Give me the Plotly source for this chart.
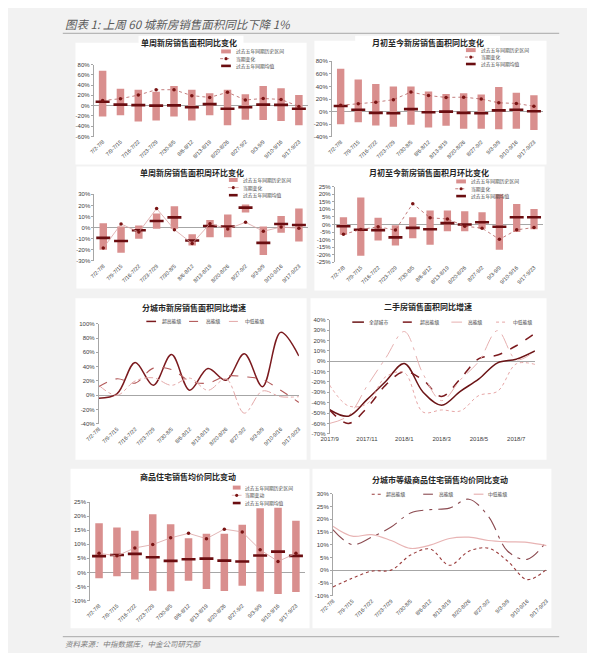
import plotly.graph_objects as go

W, H = 595, 653

# ---------------- data ----------------
weeks = ["7/2-7/8", "7/9-7/15", "7/16-7/22", "7/23-7/29", "7/30-8/5", "8/6-8/12",
         "8/13-8/19", "8/20-8/26", "8/27-9/2", "9/3-9/9", "9/10-9/16", "9/17-9/23"]

# chart 1: 单周新房销售面积同比变化
c1_high = [68, 33, 31, 27, 38, 31, 24, 31, 22, 38, 34, 20.5]
c1_low = [-21, -18.5, -31, -29, -21, -29, -18.5, -38, -27.5, -28, -30, -38]
c1_mean = [7.7, 2, 1, 0, 0.5, -3, 3, -6, -3, 2, 1.5, -6]
c1_cur = [10, 13.5, 20.5, 31, 31, 19.5, 16, 26, 11, 14, 12, -1.5]

# chart 2: 月初至今新房销售面积同比变化
c2_high = [68, 51, 44, 40, 40, 32, 28, 29, 27, 39, 30, 26]
c2_low = [-20, -17, -22, -24, -21, -25, -22.5, -27, -27, -28, -27, -29]
c2_mean = [9, 3, -2, -2.5, 4, -1, 0, -2, -2.5, 2, 3, 0.5]
c2_cur = [10, 12.5, 15, 19, 31, 25.5, 22.5, 23, 20, 14, 13, 8.5]

# chart 3: 单周新房销售面积周环比变化
c3_high = [4, 1, 2, 12.8, 19.3, -6, 6.8, 11.9, 20.8, 1, 10.4, 17.2]
c3_low = [-20, -22.5, -10, -1, -1, -16, -8.6, -8.6, 13.7, -24.6, -4.5, -12.5]
c3_mean = [-9.2, -12, -2.4, 6, 9.2, -11.6, 1.5, 1, 18, -13.7, 3.3, 2.4]
c3_cur = [-18.4, 3.3, -4, 17.2, -1.8, -14.3, 3.6, -1.2, 4.8, -3.3, 0.6, -0.6]

# chart 4: 月初至今新房销售面积月环比变化
c4_high = [4.8, 17.9, 4.4, -0.5, 4.8, 9.2, 9.2, 8.7, 8.1, 20, 13.5, 10.3]
c4_low = [-6.8, -20.7, -10.5, -13.8, -9, -13.3, -4.4, -4.4, -2.8, -16.6, -5, -3.1]
c4_mean = [-1.1, -3.5, -3.7, -8.5, -2.2, -3.1, 0.9, 0, 1.5, -1.5, 4.8, 4.8]
c4_cur = [-6.5, -3.3, -1.5, -3.7, 13.8, 4.4, 3.7, -1.1, -2.4, -9.8, -3.5, -2]

# chart 5: 分城市新房销售面积同比增速
c5_super = [-4, 2, 46, 14, 57, 7, 37.5, 21, 58, 12, 88, 55]
c5_high = [12, 23, 17, 38, 36, 20, 17, 27, 26, 22, 7, -10]
c5_mid = [14, 0, 20, 24.5, 14, 24, 7, 23, -25, 6, -2, -2]

# chart 6: 二手房销售面积同比增速 (monthly, 0 = 2017/9)
c6_month = [0, 1, 2, 3, 4, 5, 6, 7, 8, 9, 10, 11]
c6_tickpos = [0, 2, 4, 6, 8, 10]
c6_ticktext = ["2017/9", "2017/11", "2018/1", "2018/3", "2018/5", "2018/7"]
c6_all = [-46.8, -53, -37, -19.5, -2.2, -29.6, -42.4, -29, -17, -1.5, 2, 10]
c6_super = [-47, -60, -45, -23, -10, -18, -34, -17, 2.5, 6, 15, 27]
c6_high = [-60, -52.5, -24, 3, 28.7, -12, -38, -18, 0, 29.6, 1.5, 10]
c6_mid = [-23, -43, -41, -15, -11, -49, -47, -48, -33, -29, -2.5, -3]

# chart 7: 商品住宅销售均价同比变动
c7_high = [17.5, 16, 14.8, 20.7, 17.1, 12.2, 13.8, 13.8, 17, 22.8, 23, 18.4]
c7_low = [-2.1, -1.4, -2.5, -6.5, -6.7, -3, -5.9, -6.6, -4.7, -6.8, -7.7, -7]
c7_mean = [5.8, 6.2, 6.6, 5.4, 4.1, 4.7, 4.9, 4.2, 3.9, 6, 7.4, 5.9]
c7_cur = [6.8, 5.9, 8.7, 9.9, 12.3, 13.9, 12, 15.4, 14.4, 8.1, 3.9, 6.8]

# chart 8: 分城市等级商品住宅销售均价同比变动
c8_super = [-6.5, -3.1, -0.3, 0.1, 6, 8.4, 2, 7.5, 8.7, 3.6, -3.6, 0.4]
c8_high = [16, 10.1, 13, 17, 22.5, 23.8, 24.4, 27.9, 21.2, 7.5, 4.3, 11.4]
c8_mid = [17.3, 13.4, 14, 11.7, 8.6, 9.9, 12.5, 13, 11.7, 11.2, 11, 9.7]

range_labels = ["过去五年同期历史区间", "当期变化", "过去五年同期均值"]
range_labels7 = ["过去五年同期历史区间", "当期变动", "过去五年同期均值"]
tier_labels = ["超高能级", "高能级", "中低能级"]
tier_labels6 = ["全部城市", "超高能级", "高能级", "中低能级"]

# ---------------- style ----------------
BG = "#f2f2f2"
BAR = "#d98f8e"
MEAN = "#6a0d10"
CUR = "#7a1414"
CURLINE = "#b35c5c"
AXIS = "#a6a6a6"
TXT = "#404040"
CJK = "Noto Sans CJK SC"
LAT = "Liberation Sans"


def fx(x):
    return x / W


def fy(y):
    return 1 - y / H


fig = go.Figure()
shapes = []
annos = []

# white panels
panels = [(55, 32, 293, 155), (120, 25, 228, 33), (301, 30, 540, 155), (343, 25, 492, 31),
          (56, 157, 293, 280), (301, 157, 538, 282), (55, 290, 293, 453), (297, 290, 540, 453),
          (50, 462, 296, 623), (299, 462, 545, 623)]
for (x0, y0, x1, y1) in panels:
    shapes.append(dict(type="rect", xref="paper", yref="paper", x0=fx(x0), x1=fx(x1),
                       y0=fy(y1), y1=fy(y0), fillcolor="white", line=dict(width=0), layer="below"))

# header / footer
for yy in (22.5, 631.5):
    shapes.append(dict(type="line", xref="paper", yref="paper", x0=fx(42), x1=fx(553),
                       y0=fy(yy), y1=fy(yy), line=dict(color="#a8a8a8", width=1)))
annos.append(dict(text="图表 1: 上周 60 城新房销售面积同比下降 1%", x=fx(42), y=fy(13.5), xref="paper",
                  yref="paper", xanchor="left", yanchor="middle", showarrow=False,
                  font=dict(family=CJK, size=11.5, color="#5a5a5a", style="italic")))
annos.append(dict(text="资料来源：中指数据库，中金公司研究部", x=fx(42), y=fy(638), xref="paper",
                  yref="paper", xanchor="left", yanchor="middle", showarrow=False,
                  font=dict(family=CJK, size=7.5, color="#808080", style="italic")))

# axes geometry: (x0, x1, ytop, ybottom), yrange, dtick, xrange
geo = {
    1: ((73.8, 294.2, 54, 126.7), (-60, 80), 20, (-0.5, 11.5)),
    2: ((319, 536, 50.7, 127), (-40, 80), 20, (-0.5, 11.5)),
    3: ((74.5, 294.2, 185, 252.3), (-30, 30), 10, (-0.5, 11.5)),
    4: ((322, 536, 177.3, 253.7), (-25, 25), 5, (-0.5, 11.5)),
    5: ((79, 285, 315.7, 416.7), (-40, 100), 20, (0, 11)),
    6: ((316.7, 528, 311.7, 426.7), (-70, 40), 10, (0, 11)),
    7: ((70.1, 291.2, 495.7, 595), (-10, 25), 5, (-0.5, 11.5)),
    8: ((320, 540, 487.3, 590.3), (-10, 30), 5, (0, 11)),
}

idx = list(range(len(weeks)))

for i, ((x0, x1, yt, yb), yr, dt, xr) in geo.items():
    tv = list(range(yr[0], yr[1] + 1, dt))
    xa = dict(domain=[fx(x0), fx(x1)], anchor=f"y{i}", range=list(xr), showgrid=False,
              zeroline=False, showline=False, ticks="", fixedrange=True)
    if i == 6:
        xa.update(tickvals=c6_tickpos, ticktext=c6_ticktext, tickangle=0,
                  tickfont=dict(family=LAT, size=6, color=TXT))
    else:
        xa.update(tickvals=idx, ticktext=weeks, tickangle=-45,
                  tickfont=dict(family=LAT, size=5.5, color=TXT))
    ya = dict(domain=[fy(yb), fy(yt)], anchor=f"x{i}", range=list(yr), tickvals=tv,
              ticktext=[f"{v}%" for v in tv], showgrid=False, showline=True, linecolor=AXIS,
              linewidth=0.8, ticks="outside", ticklen=2, tickcolor=AXIS, zeroline=True,
              zerolinecolor=AXIS, zerolinewidth=1, tickfont=dict(family=LAT, size=6, color=TXT),
              fixedrange=True)
    fig.layout[f"xaxis{i}"] = xa
    fig.layout[f"yaxis{i}"] = ya


def range_chart(i, high, low, mean, cur, cur_dash):
    fig.add_trace(go.Bar(x=idx, y=[h - l for h, l in zip(high, low)], base=low, width=0.42,
                         marker=dict(color=BAR, line=dict(width=0)), xaxis=f"x{i}", yaxis=f"y{i}",
                         showlegend=False, hoverinfo="skip"))
    fig.add_trace(go.Scatter(x=idx, y=mean, mode="markers", xaxis=f"x{i}", yaxis=f"y{i}",
                             marker=dict(symbol="line-ew", size=10, line=dict(width=2.6, color=MEAN)),
                             showlegend=False))
    if cur_dash:
        ln = dict(color=CURLINE, width=0.8, dash="dot")
    else:
        ln = dict(color="#dba3a3", width=0.8)
    fig.add_trace(go.Scatter(x=idx, y=cur, mode="lines+markers", xaxis=f"x{i}", yaxis=f"y{i}",
                             line=ln, marker=dict(size=3.5, color=CUR), showlegend=False))


range_chart(1, c1_high, c1_low, c1_mean, c1_cur, True)
range_chart(2, c2_high, c2_low, c2_mean, c2_cur, True)
range_chart(3, c3_high, c3_low, c3_mean, c3_cur, False)
range_chart(4, c4_high, c4_low, c4_mean, c4_cur, True)
range_chart(7, c7_high, c7_low, c7_mean, c7_cur, False)

# line styles
S5 = [dict(color="#7b1a1e", width=1.5), dict(color="#b35a5a", width=1.1, dash="dash"),
      dict(color="#e3a8a8", width=1, dash="dashdot")]
S6 = [dict(color="#6b1416", width=1.5), dict(color="#7b1a1e", width=1.5, dash="dash"),
      dict(color="#e6b0b0", width=1, dash="longdashdot"), dict(color="#e6a6a6", width=1, dash="dot")]
S8 = [dict(color="#9b3d3d", width=1.1, dash="dot"), dict(color="#8b4a50", width=1.1, dash="longdashdot"),
      dict(color="#e8b4b4", width=1.2)]

for ys, st in zip([c5_super, c5_high, c5_mid], S5):
    fig.add_trace(go.Scatter(x=idx, y=ys, mode="lines", line=dict(shape="spline", smoothing=1, **st),
                             xaxis="x5", yaxis="y5", showlegend=False))
for ys, st in zip([c6_all, c6_super, c6_high, c6_mid], S6):
    fig.add_trace(go.Scatter(x=c6_month, y=ys, mode="lines", line=dict(shape="spline", smoothing=1, **st),
                             xaxis="x6", yaxis="y6", showlegend=False))
for ys, st in zip([c8_super, c8_high, c8_mid], S8):
    fig.add_trace(go.Scatter(x=idx, y=ys, mode="lines", line=dict(shape="spline", smoothing=1, **st),
                             xaxis="x8", yaxis="y8", showlegend=False))

# titles
titles = [("单周新房销售面积同比变化", 172, 31.5), ("月初至今新房销售面积同比变化", 418, 32),
          ("单周新房销售面积周环比变化", 175, 163), ("月初至今新房销售面积月环比变化", 419, 163),
          ("分城市新房销售面积同比增速", 177, 299), ("二手房销售面积同比增速", 418, 298),
          ("商品住宅销售均价同比变动", 171, 470), ("分城市等级商品住宅销售均价同比变动", 430, 473)]
for t, x, y in titles:
    annos.append(dict(text=f"<b>{t}</b>", x=fx(x), y=fy(y), xref="paper", yref="paper",
                      xanchor="center", yanchor="middle", showarrow=False,
                      font=dict(family=CJK, size=8, color="#262626")))


def leg_text(t, x, y):
    annos.append(dict(text=t, x=fx(x), y=fy(y), xref="paper", yref="paper", xanchor="left",
                      yanchor="middle", showarrow=False, font=dict(family=CJK, size=4.8, color=TXT)))


def leg_line(x0, x1, y, st):
    shapes.append(dict(type="line", xref="paper", yref="paper", x0=fx(x0), x1=fx(x1), y0=fy(y),
                       y1=fy(y), line=st))


# range-chart legends: (swatch x0, x1, text x, y1, y2, y3, labels, dotted)
rleg = [(205, 215, 218, 40.8, 48.1, 55.4, range_labels, True),
        (457, 467, 470, 39.5, 46.5, 53.5, range_labels, True),
        (213, 222, 225, 170.5, 178.2, 185.9, range_labels, False),
        (447, 457, 460, 172, 179.4, 186.8, range_labels, True),
        (217, 225, 228, 481, 488.8, 496.6, range_labels7, False)]
for (a, b, tx, y1, y2, y3, labs, dotted) in rleg:
    shapes.append(dict(type="rect", xref="paper", yref="paper", x0=fx(a), x1=fx(b), y0=fy(y1 + 2),
                       y1=fy(y1 - 2), fillcolor=BAR, line=dict(width=0)))
    leg_line(a - 1, b + 1, y2, dict(color=CURLINE if dotted else "#dba3a3", width=0.8,
                                    dash="dot" if dotted else "solid"))
    cx = (a + b) / 2
    shapes.append(dict(type="circle", xref="paper", yref="paper", x0=fx(cx - 1.6), x1=fx(cx + 1.6),
                       y0=fy(y2 + 1.6), y1=fy(y2 - 1.6), fillcolor=CUR, line=dict(width=0)))
    leg_line(a, b, y3, dict(color=MEAN, width=2.6))
    for yy, lab in zip((y1, y2, y3), labs):
        leg_text(lab, tx, yy)

# tier legends
tleg = [(313.3, [(128, 138, 142), (172, 184, 187), (213, 223, 227)], tier_labels, S5),
        (314, [(340, 352, 355), (392, 405, 408), (442, 453, 457), (488, 500, 503)], tier_labels6, S6),
        (487.7, [(360, 370, 373), (413, 423, 427), (465, 475, 478)], tier_labels, S8)]
for y, pos, labs, sts in tleg:
    for (a, b, tx), lab, st in zip(pos, labs, sts):
        leg_line(a, b, y, st)
        leg_text(lab, tx, y)

fig.update_layout(width=W, height=H, margin=dict(l=0, r=0, t=0, b=0), autosize=False,
                  paper_bgcolor=BG, plot_bgcolor="rgba(0,0,0,0)", barmode="overlay",
                  showlegend=False, shapes=shapes, annotations=annos)

fig.write_html("out.html")
